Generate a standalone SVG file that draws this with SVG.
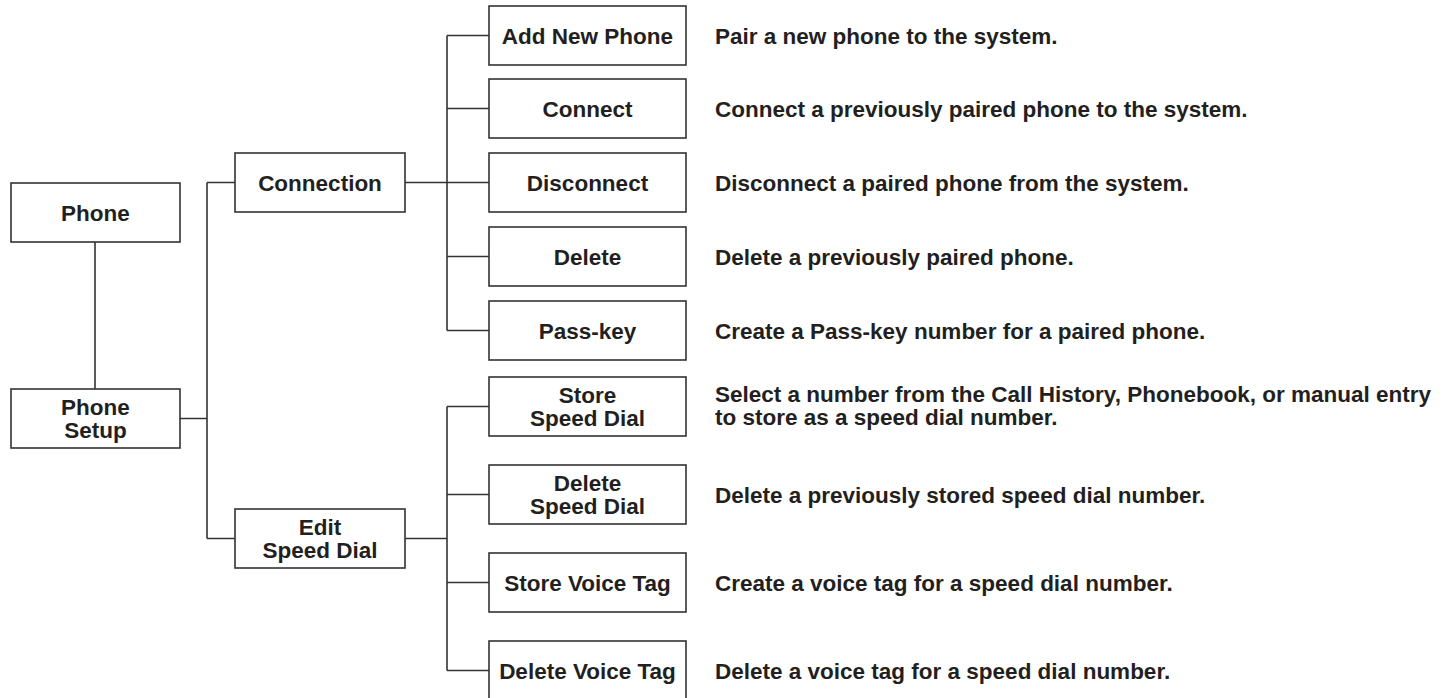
<svg xmlns="http://www.w3.org/2000/svg" width="1449" height="698" viewBox="0 0 1449 698">
<style>
.box{fill:#fff;stroke:#333;stroke-width:1.6}
.c{fill:none;stroke:#333;stroke-width:1.6}
.t{font-family:"Liberation Sans",Arial,sans-serif;font-weight:bold;font-size:22.5px;fill:#231f20;text-anchor:middle}
.d{font-family:"Liberation Sans",Arial,sans-serif;font-weight:bold;font-size:22.5px;fill:#231f20}
</style>
<rect width="1449" height="698" fill="#fff"/>
<g id="connectors">
<path class="c" d="M95,242V389M180,418.5H207M207,182.5V538.5M207,182.5H235M207,538.5H235"/>
<path class="c" d="M405,182.5H447M447,35.5V330.5M447,35.5H489M447,108.5H489M447,182.5H489M447,256.5H489M447,330.5H489"/>
<path class="c" d="M405,538.5H447M447,406.5V670.5M447,406.5H489M447,494.5H489M447,582.5H489M447,670.5H489"/>
</g>
<g id="phone"><rect class="box" x="11" y="183" width="169" height="59"/><text class="t" x="95.5" y="220.5">Phone</text></g>
<g id="phone-setup"><rect class="box" x="11" y="389" width="169" height="59"/><text class="t" x="95.5" y="415">Phone</text><text class="t" x="95.5" y="438">Setup</text></g>
<g id="connection"><rect class="box" x="235" y="153" width="170" height="59"/><text class="t" x="320" y="190.5">Connection</text></g>
<g id="edit-speed-dial"><rect class="box" x="235" y="509" width="170" height="59"/><text class="t" x="320" y="535">Edit</text><text class="t" x="320" y="558">Speed Dial</text></g>
<g id="add-new-phone"><rect class="box" x="489" y="6" width="197" height="59"/><text class="t" x="587.5" y="43.5">Add New Phone</text><text class="d" x="715" y="43.5">Pair a new phone to the system.</text></g>
<g id="connect"><rect class="box" x="489" y="79" width="197" height="59"/><text class="t" x="587.5" y="116.5">Connect</text><text class="d" x="715" y="116.5">Connect a previously paired phone to the system.</text></g>
<g id="disconnect"><rect class="box" x="489" y="153" width="197" height="59"/><text class="t" x="587.5" y="190.5">Disconnect</text><text class="d" x="715" y="190.5">Disconnect a paired phone from the system.</text></g>
<g id="delete"><rect class="box" x="489" y="227" width="197" height="59"/><text class="t" x="587.5" y="264.5">Delete</text><text class="d" x="715" y="264.5">Delete a previously paired phone.</text></g>
<g id="pass-key"><rect class="box" x="489" y="301" width="197" height="59"/><text class="t" x="587.5" y="338.5">Pass-key</text><text class="d" x="715" y="338.5">Create a Pass-key number for a paired phone.</text></g>
<g id="store-speed-dial"><rect class="box" x="489" y="377" width="197" height="59"/><text class="t" x="587.5" y="403">Store</text><text class="t" x="587.5" y="426">Speed Dial</text><text class="d" x="715" y="402">Select a number from the Call History, Phonebook, or manual entry</text><text class="d" x="715" y="425">to store as a speed dial number.</text></g>
<g id="delete-speed-dial"><rect class="box" x="489" y="465" width="197" height="59"/><text class="t" x="587.5" y="491">Delete</text><text class="t" x="587.5" y="514">Speed Dial</text><text class="d" x="715" y="502.5">Delete a previously stored speed dial number.</text></g>
<g id="store-voice-tag"><rect class="box" x="489" y="553" width="197" height="59"/><text class="t" x="587.5" y="590.5">Store Voice Tag</text><text class="d" x="715" y="590.5">Create a voice tag for a speed dial number.</text></g>
<g id="delete-voice-tag"><rect class="box" x="489" y="641" width="197" height="62"/><text class="t" x="587.5" y="678.5">Delete Voice Tag</text><text class="d" x="715" y="678.5">Delete a voice tag for a speed dial number.</text></g>
</svg>
